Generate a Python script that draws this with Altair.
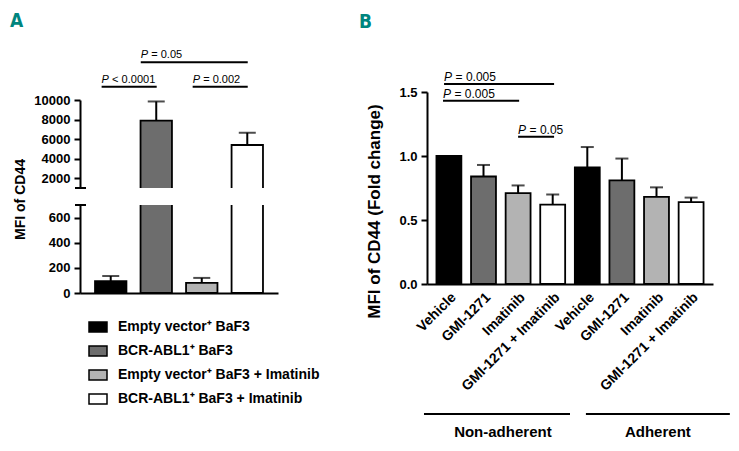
import altair as alt
import pandas as pd

FONT = "Liberation Sans"
LABEL_FONT = "DejaVu Sans Condensed, Roboto, Liberation Sans, sans-serif"
TEAL = "#00857e"

# ---------------- Panel A data ----------------
a_groups = ["Empty vector⁺ BaF3", "BCR-ABL1⁺ BaF3",
            "Empty vector⁺ BaF3 + Imatinib", "BCR-ABL1⁺ BaF3 + Imatinib"]
a_mean = [95, 7900, 80, 5400]
a_sem = [40, 1950, 40, 1250]
a_colors = ["#000000", "#6d6d6d", "#b3b3b3", "#ffffff"]
a_upper_ticks = [2000, 4000, 6000, 8000, 10000]
a_lower_ticks = [0, 200, 400, 600]
a_upper_domain = [1000, 10000]
a_lower_domain = [0, 700]

a_sig_rest = ["< 0.0001", "= 0.002", "= 0.05"]
a_sig_start = [-0.2, 1.8, 0.66]
a_sig_end = [1.01, 3.01, 3.01]
a_sig_level = [11360, 11360, 13860]

# ---------------- Panel B data ----------------
b_conditions = ["Non-adherent", "Adherent"]
b_treatments = ["Vehicle", "GMI-1271", "Imatinib", "GMI-1271 + Imatinib"]
b_mean = [1.0, 0.84, 0.71, 0.62, 0.91, 0.81, 0.68, 0.64]
b_sem = [0.0, 0.09, 0.06, 0.08, 0.16, 0.17, 0.075, 0.035]
b_ticks = [0.0, 0.5, 1.0, 1.5]
b_domain = [0, 1.5]
b_sig_rest = ["= 0.005", "= 0.005", "= 0.05"]
b_sig_start = [-0.14, -0.17, 2.0]
b_sig_end = [3.04, 2.03, 3.04]
b_sig_level = [1.5625, 1.432, 1.151]
b_group_start = [-0.72, 3.96]
b_group_end = [3.5, 8.12]
b_group_mid = [1.56, 6.04]
b_group_line = [-1.016, -1.016]
b_group_text = [-1.156, -1.156]

# ---------------- layout parameters ----------------
A_W, A_H = 198, 88
A_PI, A_PO = 0.31, 0.33
B_W, B_H = 286, 192
B_PI, B_PO = 0.28, 0.273
NO_FRAME = alt.ViewBackground(stroke="transparent", strokeWidth=0)


def helper_scale(width, n, pi, po):
    step = width / (n - pi + 2 * po)
    c0 = (width - step * (n - pi)) / 2 + step * (1 - pi) / 2
    return alt.Scale(domain=[-c0 / step, (width - c0) / step], nice=False, zero=False)


def y_axis(values, fmt, **kw):
    return alt.Axis(values=values, format=fmt, grid=False, domainColor="black",
                    domainWidth=2, tickColor="black", tickWidth=2, tickSize=6,
                    labelFont=FONT, labelFontSize=13, labelFontWeight="bold",
                    labelColor="black", labelPadding=4, **kw)


def sig_layers(df, xs, ys, yax, size, dx, dy):
    x = alt.X("x1:Q", scale=xs, axis=None)
    y = alt.Y("level:Q", scale=ys, axis=yax)
    rules = alt.Chart(df).mark_rule(color="black", strokeWidth=2).encode(
        x=x, x2="x2:Q", y=y)
    p = alt.Chart(df).mark_text(align="left", baseline="alphabetic", dy=dy, font=FONT,
                                fontSize=size, fontStyle="italic", color="black").encode(
        x=x, y=y, text="p:N")
    rest = alt.Chart(df).mark_text(align="left", baseline="alphabetic", dx=dx, dy=dy,
                                   font=FONT, fontSize=size, color="black").encode(
        x=x, y=y, text="rest:N")
    return [rules, p, rest]


# ---------------- Panel A ----------------
dfA = pd.DataFrame({"group": a_groups, "mean": a_mean, "sem": a_sem})
dfA["upper"] = dfA["mean"] + dfA["sem"]
sigA = pd.DataFrame({"p": ["P"] * len(a_sig_rest), "rest": a_sig_rest,
                     "x1": a_sig_start, "x2": a_sig_end, "level": a_sig_level})
a_helper = helper_scale(A_W, len(a_groups), A_PI, A_PO)


def a_segment(domain, ticks, break_value, x_axis, legend, title_kw):
    ys = alt.Scale(domain=domain, nice=False, zero=False)
    yax = y_axis(ticks, "d", **title_kw)
    xb = alt.X("group:N", sort=a_groups, title=None,
               scale=alt.Scale(paddingInner=A_PI, paddingOuter=A_PO), axis=x_axis)
    base = alt.Chart(dfA)
    bars = base.mark_bar(stroke="black", strokeWidth=1.8, clip=True).encode(
        x=xb,
        y=alt.Y("mean:Q", scale=ys, axis=yax),
        y2=alt.datum(0),
        color=alt.Color("group:N", scale=alt.Scale(domain=a_groups, range=a_colors),
                        legend=legend))
    stems = base.mark_rule(color="black", strokeWidth=2, clip=True).encode(
        x=xb, y=alt.Y("mean:Q", scale=ys, axis=yax), y2="upper:Q")
    caps = base.mark_tick(color="black", thickness=2, size=17, clip=True).encode(
        x=xb, y=alt.Y("upper:Q", scale=ys, axis=yax))
    brk = alt.Chart(pd.DataFrame({"v": [break_value]})).mark_rule(
        color="black", strokeWidth=2).encode(
        x=alt.value(-5), x2=alt.value(6), y=alt.Y("v:Q", scale=ys, axis=yax))
    return alt.layer(bars, stems, caps, brk).properties(view=NO_FRAME), ys, yax


upper_core, ys_up, yax_up = a_segment(a_upper_domain, a_upper_ticks, a_upper_domain[0],
                                      None, None, {"title": None})
upper = alt.layer(
    upper_core,
    alt.layer(*sig_layers(sigA, a_helper, ys_up, yax_up, 11, 10.5, -4)).properties(
        view=NO_FRAME),
).resolve_scale(x="independent").properties(
    width=A_W, height=A_H, view=NO_FRAME,
    title=alt.TitleParams("A", anchor="start", frame="group", dx=-70, offset=18.5,
                          font=LABEL_FONT, fontSize=19,
                          fontWeight="bold", color=TEAL))

legendA = alt.Legend(orient="none", legendX=8, legendY=112, title=None,
                     symbolType="M-1,-0.5556H1V0.5556H-1Z", symbolSize=324,
                     symbolStrokeColor="black", symbolStrokeWidth=1.5,
                     labelFont=FONT, labelFontSize=14, labelFontWeight="bold",
                     labelColor="black", labelOffset=10, rowPadding=5,
                     labelLimit=400, padding=0)
x_axis_A = alt.Axis(labels=False, ticks=False, title=None, domainColor="black",
                    domainWidth=2)
lower_core, _, _ = a_segment(a_lower_domain, a_lower_ticks, a_lower_domain[1],
                             x_axis_A, legendA,
                             {"title": "MFI of CD44", "titleFont": FONT,
                              "titleFontSize": 14, "titleFontWeight": "bold",
                              "titleColor": "black", "titleX": -53, "titleY": -6})
lower = lower_core.properties(width=A_W, height=A_H)

A_inner = alt.vconcat(upper, lower, spacing=17, bounds="flush").resolve_scale(
    color="independent")
spacer = alt.Chart(pd.DataFrame({"s": [0]})).mark_point(opacity=0).properties(
    width=A_W, height=8, view=NO_FRAME)
panelA = alt.vconcat(spacer, A_inner, spacing=0, bounds="flush").resolve_scale(
    color="independent")

# ---------------- Panel B ----------------
keys = [f"{c}|{t}" for c in b_conditions for t in b_treatments]
dfB = pd.DataFrame({"key": keys, "treatment": b_treatments * len(b_conditions),
                    "mean": b_mean, "sem": b_sem})
dfB["upper"] = dfB["mean"] + dfB["sem"]
dfB_err = dfB[dfB["sem"] > 0]
sigB = pd.DataFrame({"p": ["P"] * len(b_sig_rest), "rest": b_sig_rest,
                     "x1": b_sig_start, "x2": b_sig_end, "level": b_sig_level})
grpB = pd.DataFrame({"name": b_conditions, "x1": b_group_start, "x2": b_group_end,
                     "mid": b_group_mid, "line": b_group_line, "ty": b_group_text})
b_helper = helper_scale(B_W, len(keys), B_PI, B_PO)
ysB = alt.Scale(domain=b_domain, nice=False)
yaxB = y_axis(b_ticks, ".1f", title="MFI of CD44 (Fold change)",
              titleFont=FONT, titleFontSize=17, titleFontWeight="bold",
              titleColor="black", titleX=-44, titleY=119)

xB_axis = alt.Axis(labelExpr="split(datum.label, '|')[1]", labelAngle=-45,
                   ticks=False, domainColor="black", domainWidth=2, labelFont=FONT,
                   labelFontSize=14, labelFontWeight="bold", labelColor="black",
                   labelPadding=6, labelLimit=300, labelOverlap=False, title=None)
xB = alt.X("key:N", sort=keys, scale=alt.Scale(paddingInner=B_PI, paddingOuter=B_PO),
           axis=xB_axis)
barsB = alt.Chart(dfB).mark_bar(stroke="black", strokeWidth=1.8).encode(
    x=xB,
    y=alt.Y("mean:Q", scale=ysB, axis=yaxB),
    color=alt.Color("treatment:N", scale=alt.Scale(domain=b_treatments, range=a_colors),
                    legend=None))
stemsB = alt.Chart(dfB_err).mark_rule(color="black", strokeWidth=2).encode(
    x=xB, y=alt.Y("mean:Q", scale=ysB, axis=yaxB), y2="upper:Q")
capsB = alt.Chart(dfB_err).mark_tick(color="black", thickness=2, size=13).encode(
    x=xB, y=alt.Y("upper:Q", scale=ysB, axis=yaxB))

grp_rules = alt.Chart(grpB).mark_rule(color="black", strokeWidth=2).encode(
    x=alt.X("x1:Q", scale=b_helper, axis=None), x2="x2:Q",
    y=alt.Y("line:Q", scale=ysB, axis=yaxB))
grp_text = alt.Chart(grpB).mark_text(font=FONT, fontSize=15, fontWeight="bold",
                                     color="black", align="center",
                                     baseline="middle").encode(
    x=alt.X("mid:Q", scale=b_helper, axis=None), y=alt.Y("ty:Q", scale=ysB, axis=yaxB),
    text="name:N")

panelB = alt.layer(
    alt.layer(barsB, stemsB, capsB).properties(view=NO_FRAME),
    alt.layer(*sig_layers(sigB, b_helper, ysB, yaxB, 12, 11.5, -3), grp_rules,
              grp_text).properties(view=NO_FRAME),
).resolve_scale(x="independent").properties(
    width=B_W, height=B_H, view=NO_FRAME,
    title=alt.TitleParams("B", anchor="start", frame="group", dx=-68, offset=39.5,
                          font=LABEL_FONT, fontSize=19,
                          fontWeight="bold", color=TEAL))

chart = alt.hconcat(panelA, panelB, spacing=347, bounds="flush").resolve_scale(
    color="independent").properties(
    padding={"left": 2, "top": 3, "right": 0, "bottom": 0}
).configure(font=FONT, view=alt.ViewConfig(stroke="transparent", strokeWidth=0))

chart.save("out.html", embed_options={"renderer": "svg", "actions": False})
